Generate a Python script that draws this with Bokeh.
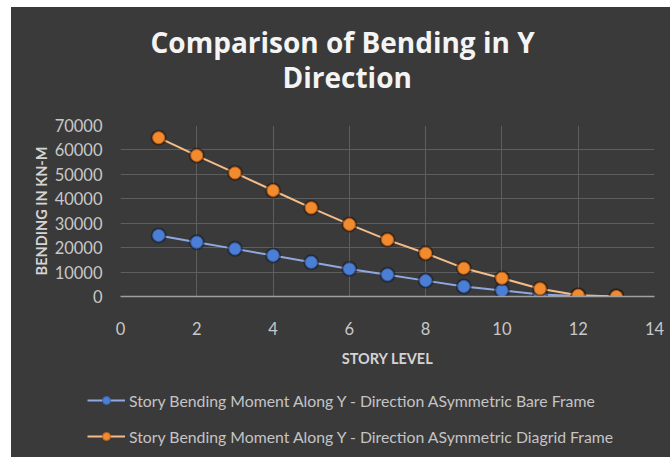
from bokeh.plotting import figure
from bokeh.layouts import column, row
from bokeh.models import (ColumnDataSource, FixedTicker, Range1d, Legend, LegendItem, Title, Spacer)
from bokeh.embed import file_html
from bokeh.resources import INLINE

story = [1, 2, 3, 4, 5, 6, 7, 8, 9, 10, 11, 12, 13]
bare_frame = [25000, 22200, 19500, 16800, 14000, 11300, 8900, 6500, 4100, 2500, 800, 200, 0]
diagrid_frame = [65000, 57700, 50600, 43400, 36300, 29500, 23200, 17700, 11600, 7500, 3200, 500, 0]
x_ticks = [0, 2, 4, 6, 8, 10, 12, 14]
y_ticks = [0, 10000, 20000, 30000, 40000, 50000, 60000, 70000]
name_bare = "Story Bending Moment Along Y - Direction ASymmetric Bare Frame"
name_diag = "Story Bending Moment Along Y - Direction ASymmetric Diagrid Frame"

BG = "#3a3a3a"
FONT = "Lato"
W = 659

src = ColumnDataSource(dict(x=story, bare=bare_frame, diag=diagrid_frame))

def draw(fig, visible=True):
    lb = fig.line("x", "bare", source=src, line_color="#8fa8e0", line_width=2, visible=visible)
    fig.scatter("x", "bare", source=src, size=16, fill_color="#141c30", fill_alpha=0.55,
                line_color=None, visible=visible)
    sb = fig.scatter("x", "bare", source=src, size=12, fill_color="#4b7fd6", line_color="#3a60a6",
                     line_width=1, visible=visible)
    ld = fig.line("x", "diag", source=src, line_color="#f4bc88", line_width=2, visible=visible)
    fig.scatter("x", "diag", source=src, size=16, fill_color="#301505", fill_alpha=0.55,
                line_color=None, visible=visible)
    sd = fig.scatter("x", "diag", source=src, size=12, fill_color="#f28a2e", line_color="#b8601a",
                     line_width=1, visible=visible)
    return lb, sb, ld, sd

p = figure(width=W, height=372, output_backend="svg", toolbar_location=None,
           x_range=Range1d(0, 14), y_range=Range1d(0, 70000),
           min_border_left=109, min_border_right=16, min_border_top=118,
           min_border_bottom=83)
p.background_fill_color = BG
p.border_fill_color = BG
p.outline_line_color = None

# title block: a blank spacer next to the frame, then the two title lines
t_gap = Title(text=" ", align="left", text_font="Open Sans", text_font_size="10px",
              text_color=BG, standoff=16)
t2 = Title(text="Direction", align="left", text_font="Open Sans", text_font_size="28px",
           text_font_style="bold", text_color="#f4f4f4", standoff=0, offset=162)
t1 = Title(text="Comparison of Bending in Y", align="left", text_font="Open Sans",
           text_font_size="28px", text_font_style="bold", text_color="#f4f4f4",
           standoff=0, offset=30)
try:
    t2.standoff = -5
    t1.standoff = -5
except Exception:
    t2.standoff = 0
    t1.standoff = 0
p.add_layout(t_gap, "above")
p.add_layout(t2, "above")
p.add_layout(t1, "above")

draw(p)

for ax in (p.xaxis[0], p.yaxis[0]):
    ax.major_tick_line_color = None
    ax.minor_tick_line_color = None
    ax.major_label_text_color = "#c8c8c8"
    ax.major_label_text_font = FONT
    ax.major_label_text_font_size = "16.5px"
    ax.axis_label_text_color = "#d4d4d4"
    ax.axis_label_text_font = FONT
    ax.axis_label_text_font_size = "14.5px"
    ax.axis_label_text_font_style = "bold"

p.xaxis.ticker = FixedTicker(ticks=x_ticks)
p.yaxis.ticker = FixedTicker(ticks=y_ticks)
p.xaxis.axis_label = "STORY LEVEL"
p.yaxis.axis_label = "BENDING IN KN-M"
p.xaxis.axis_line_color = "#a0a0a0"
p.xaxis.axis_line_width = 1.5
p.yaxis.axis_line_color = None
p.xaxis.major_label_standoff = 19
p.yaxis.major_label_standoff = 12
p.xaxis.axis_label_standoff = 12
p.yaxis.axis_label_standoff = 2

p.xgrid.ticker = FixedTicker(ticks=x_ticks)
p.ygrid.ticker = FixedTicker(ticks=y_ticks)
p.xgrid.grid_line_color = "#5e5e5e"
p.ygrid.grid_line_color = "#5e5e5e"

# legend strip below the chart
q = figure(width=W, height=78, output_backend="svg", toolbar_location=None,
           x_range=Range1d(0, 14), y_range=Range1d(0, 70000),
           x_axis_location=None, y_axis_location=None,
           min_border_left=0, min_border_right=0, min_border_top=0, min_border_bottom=0)
q.background_fill_color = BG
q.border_fill_color = BG
q.outline_line_color = None
q.grid.visible = False
if "frame_align" in q.properties():
    q.frame_align = False
lb, sb, ld, sd = draw(q, visible=False)

legend = Legend(items=[LegendItem(label=name_bare, renderers=[lb, sb]),
                       LegendItem(label=name_diag, renderers=[ld, sd])],
                location=(76, 11), orientation="vertical",
                background_fill_alpha=0, border_line_color=None,
                inactive_fill_alpha=0,
                label_text_color="#c4c4c4", label_text_font=FONT,
                label_text_font_size="15.8px", glyph_width=38, label_standoff=4,
                spacing=16, margin=0, padding=0)
q.add_layout(legend, "center")

inner = column(p, q, spacing=0)
if "styles" in inner.properties():
    inner.styles = {"background-color": BG}
layout = column(Spacer(height=7), row(Spacer(width=11), inner, spacing=0), spacing=0)
html = file_html(layout, INLINE)
open("out.html", "w").write(html)
